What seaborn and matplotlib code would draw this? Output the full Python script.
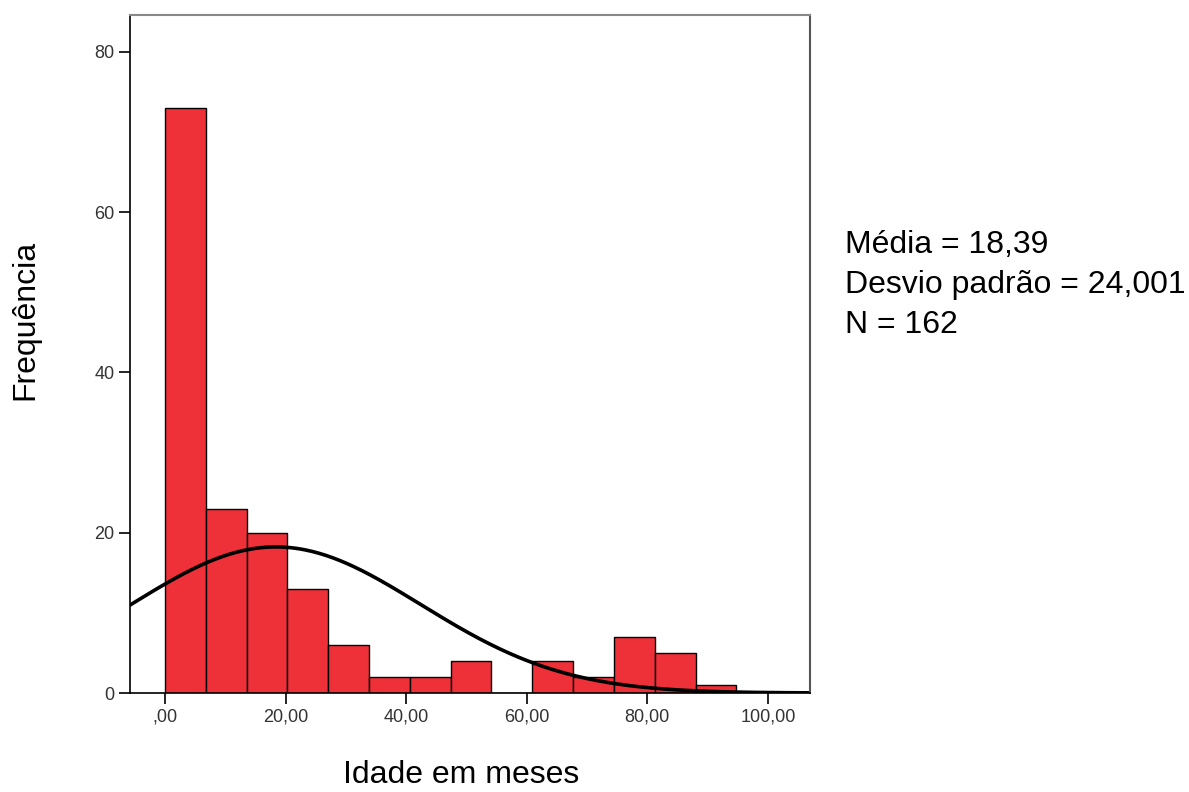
import numpy as np
import pandas as pd
import matplotlib
matplotlib.use("Agg")
import matplotlib.pyplot as plt
import seaborn as sns

# Data
bin_width = 6.77
counts = [73, 23, 20, 13, 6, 2, 2, 4, 0, 4, 2, 7, 5, 1]
mean_val = 18.39
sd_val = 24.001
n_total = 162
xticks = [0, 20, 40, 60, 80, 100]
xtick_labels = [",00", "20,00", "40,00", "60,00", "80,00", "100,00"]
yticks = [0, 20, 40, 60, 80]
ytick_labels = ["0", "20", "40", "60", "80"]

sns.set_style("white")
plt.rcParams['font.family'] = ['Liberation Sans', 'DejaVu Sans']

edges = np.arange(len(counts) + 1) * bin_width
centers = edges[:-1] + bin_width / 2
df = pd.DataFrame({"idade": centers, "freq": counts})

fig = plt.figure(figsize=(11.89, 7.92), dpi=100)
ax = fig.add_axes([0.1093, 0.125, 0.572, 0.856])

sns.histplot(data=df, x="idade", weights="freq", bins=[float(e) for e in edges], ax=ax,
             color="#EE3039", alpha=1.0, edgecolor="black", linewidth=1.0)

xlim = (-5.8, 107)
xs = np.linspace(xlim[0], xlim[1], 400)
ys = n_total * bin_width * np.exp(-0.5 * ((xs - mean_val) / sd_val) ** 2) / (sd_val * np.sqrt(2 * np.pi))
sns.lineplot(x=xs, y=ys, ax=ax, color="black", linewidth=2.6)

ax.set_xlim(*xlim)
ax.set_ylim(0, 84.6)
ax.set_xticks(xticks)
ax.set_xticklabels(xtick_labels, fontsize=13, color="#333333")
ax.set_yticks(yticks)
ax.set_yticklabels(ytick_labels, fontsize=13, color="#333333")
ax.tick_params(axis="both", direction="out", length=8, width=1.2, color="black",
               bottom=True, left=True, pad=3)

for s in ["left", "bottom"]:
    ax.spines[s].set_color("black")
    ax.spines[s].set_linewidth(1.2)
ax.spines["top"].set_color("#888888")
ax.spines["top"].set_linewidth(1.5)
ax.spines["right"].set_color("#555555")
ax.spines["right"].set_linewidth(1.5)

ax.set_xlabel("Idade em meses", fontsize=23, color="black")
ax.set_ylabel("Frequência", fontsize=23, color="black")
ax.xaxis.set_label_coords(0.487, -0.121)
ax.yaxis.set_label_coords(-0.154, 0.55)
ax.xaxis.label.set_va("center")
ax.yaxis.label.set_va("center")

fig.text(845 / 1189, 1 - 245 / 792, "Média = 18,39", fontsize=23, va="center", ha="left", color="black")
fig.text(845 / 1189, 1 - 285 / 792, "Desvio padrão = 24,001", fontsize=23, va="center", ha="left", color="black")
fig.text(845 / 1189, 1 - 325 / 792, "N = 162", fontsize=23, va="center", ha="left", color="black")

fig.savefig("out.png", dpi=100)
